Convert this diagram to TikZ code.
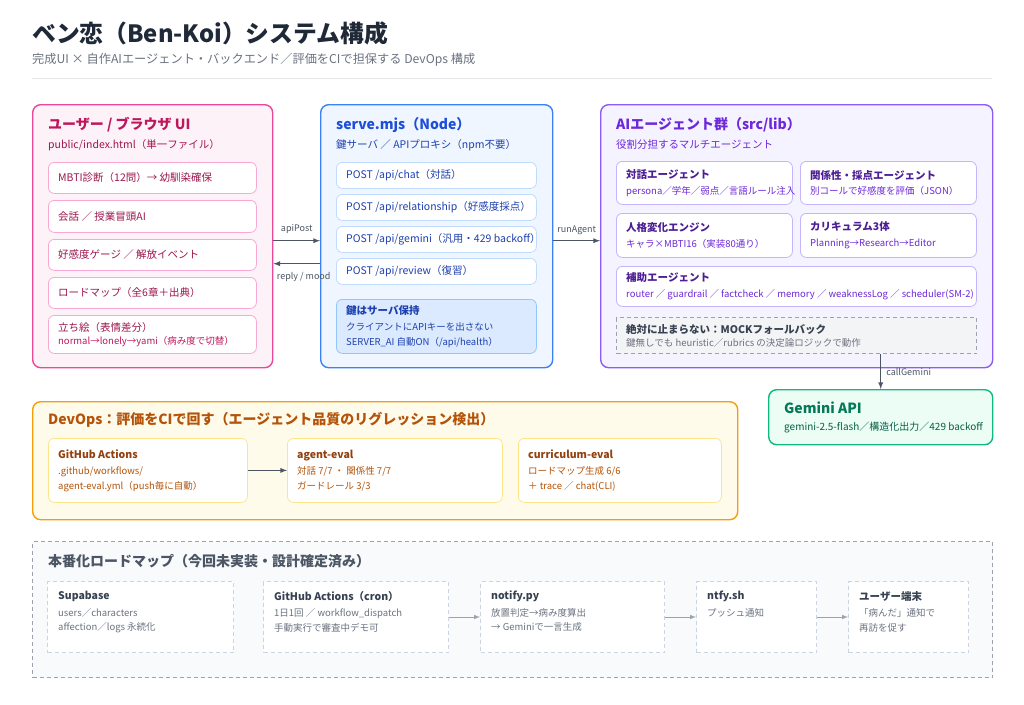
\documentclass[tikz,border=0pt]{standalone}
\usepackage{fontspec}
\setmainfont{Noto Sans CJK JP}
\usepackage{tikz}
\usetikzlibrary{calc}
\usetikzlibrary{shapes,arrows}

\definecolor{ink}{HTML}{1F2937}
\definecolor{muted}{HTML}{6B7280}
\definecolor{sepline}{HTML}{E5E7EB}
\definecolor{arrowc}{HTML}{4B5563}
\definecolor{uiline}{HTML}{EC4899}
\definecolor{uifill}{HTML}{FDF2F8}
\definecolor{uiedge}{HTML}{F9A8D4}
\definecolor{uihead}{HTML}{BE185D}
\definecolor{uitext}{HTML}{9D174D}
\definecolor{srvline}{HTML}{3B82F6}
\definecolor{srvfill}{HTML}{EFF6FF}
\definecolor{srvedge}{HTML}{BFDBFE}
\definecolor{srvhead}{HTML}{1D4ED8}
\definecolor{srvtext}{HTML}{1E40AF}
\definecolor{keyfill}{HTML}{DBEAFE}
\definecolor{keyedge}{HTML}{93C5FD}
\definecolor{agtline}{HTML}{8B5CF6}
\definecolor{agtfill}{HTML}{F5F3FF}
\definecolor{agtedge}{HTML}{C4B5FD}
\definecolor{agthead}{HTML}{6D28D9}
\definecolor{agttitle}{HTML}{4C1D95}
\definecolor{agttext}{HTML}{6D28D9}
\definecolor{mockfill}{HTML}{F3F4F6}
\definecolor{mockedge}{HTML}{9CA3AF}
\definecolor{mockhead}{HTML}{374151}
\definecolor{gemline}{HTML}{10B981}
\definecolor{gemfill}{HTML}{ECFDF5}
\definecolor{gemhead}{HTML}{047857}
\definecolor{gemtext}{HTML}{065F46}
\definecolor{devline}{HTML}{F59E0B}
\definecolor{devfill}{HTML}{FFFBEB}
\definecolor{devedge}{HTML}{FDE68A}
\definecolor{devhead}{HTML}{B45309}
\definecolor{devtitle}{HTML}{92400E}
\definecolor{devtext}{HTML}{B45309}
\definecolor{rmline}{HTML}{9CA3AF}
\definecolor{rmfill}{HTML}{F8FAFC}
\definecolor{rmedge}{HTML}{CBD5E1}
\definecolor{rmhead}{HTML}{4B5563}
\definecolor{rmarrow}{HTML}{9CA3AF}

\tikzset{
  txt/.style={anchor=west, inner sep=0pt},
  headtxt/.style={txt, font=\fontsize{14}{17}\selectfont\bfseries},
  subtxt/.style={txt, font=\fontsize{10.5}{13}\selectfont},
  cardtxt/.style={txt, align=left, font=\fontsize{9.5}{14.5}\selectfont},
  panel/.style={draw, rounded corners=8pt, line width=1.4pt, anchor=north west, inner sep=0pt},
  item/.style={draw, rounded corners=6pt, line width=0.8pt, fill=white, anchor=north west, inner sep=0pt},
  dashbox/.style={draw, dash pattern=on 4pt off 3pt, line width=1pt, anchor=north west, inner sep=0pt},
  conn/.style={draw=arrowc, line width=1.3pt, -latex},
  connlabel/.style={font=\fontsize{9}{11}\selectfont, text=arrowc, inner sep=0pt},
}

\begin{document}
\begin{tikzpicture}[x=1pt,y=-1pt,>=latex]
\useasboundingbox (0,0) rectangle (1024,704);
\fill[white] (0,0) rectangle (1024,704);

% header
\node[txt, font=\fontsize{23.8}{28}\selectfont\bfseries, text=ink] (title) at (32,33) {ベン恋（Ben-Koi）システム構成};
\node[txt, font=\fontsize{12.2}{14}\selectfont, text=muted] (subtitle) at (32,60) {完成UI × 自作AIエージェント・バックエンド／評価をCIで担保する DevOps 構成};
\draw[sepline, line width=1pt] (32,78) -- (992,78);

% user / browser UI
\node[panel, draw=uiline, fill=uifill, minimum width=240pt, minimum height=263pt] (ui) at (32,104) {};
\node[headtxt, text=uihead] (uihd) at (48,125) {ユーザー / ブラウザ UI};
\node[subtxt, text=uitext] (uisb) at (48,145) {public/index.html（単一ファイル）};
\node[item, draw=uiedge, minimum width=208pt, minimum height=31pt] (ui1) at (48,162) {};
\node[subtxt, text=uitext] (ui1t) at ($(ui1.west)+(10,0)$) {MBTI診断（12問）→ 幼馴染確保};
\node[item, draw=uiedge, minimum width=208pt, minimum height=32pt] (ui2) at (48,200) {};
\node[subtxt, text=uitext] (ui2t) at ($(ui2.west)+(10,0)$) {会話 ／ 授業冒頭AI};
\node[item, draw=uiedge, minimum width=208pt, minimum height=31pt] (ui3) at (48,239) {};
\node[subtxt, text=uitext] (ui3t) at ($(ui3.west)+(10,0)$) {好感度ゲージ ／ 解放イベント};
\node[item, draw=uiedge, minimum width=208pt, minimum height=31pt] (ui4) at (48,277) {};
\node[subtxt, text=uitext] (ui4t) at ($(ui4.west)+(10,0)$) {ロードマップ（全6章＋出典）};
\node[item, draw=uiedge, minimum width=208pt, minimum height=38pt] (ui5) at (48,315) {};
\node[cardtxt, text=uihead, font=\fontsize{9.5}{13}\selectfont] (ui5t) at ($(ui5.west)+(10,0)$) {{\color{uitext}\fontsize{10.5}{13}\selectfont 立ち絵（表情差分）}\\normal→lonely→yami（病み度で切替）};

% serve.mjs
\node[panel, draw=srvline, fill=srvfill, minimum width=232pt, minimum height=263pt] (srv) at (320,104) {};
\node[headtxt, text=srvhead] (srvhd) at (336,125) {serve.mjs（Node）};
\node[subtxt, text=srvtext] (srvsb) at (336,145) {鍵サーバ ／ APIプロキシ（npm不要）};
\node[item, draw=srvedge, minimum width=200pt, minimum height=26pt] (api1) at (336,162) {};
\node[subtxt, text=srvtext] (api1t) at ($(api1.west)+(10,0)$) {POST /api/chat（対話）};
\node[item, draw=srvedge, minimum width=200pt, minimum height=26pt] (api2) at (336,194) {};
\node[subtxt, text=srvtext] (api2t) at ($(api2.west)+(10,0)$) {POST /api/relationship（好感度採点）};
\node[item, draw=srvedge, minimum width=200pt, minimum height=26pt] (api3) at (336,226) {};
\node[subtxt, text=srvtext] (api3t) at ($(api3.west)+(10,0)$) {POST /api/gemini（汎用・429 backoff）};
\node[item, draw=srvedge, minimum width=200pt, minimum height=26pt] (api4) at (336,258) {};
\node[subtxt, text=srvtext] (api4t) at ($(api4.west)+(10,0)$) {POST /api/review（復習）};
\node[item, draw=keyedge, fill=keyfill, minimum width=200pt, minimum height=54pt] (key) at (336,299) {};
\node[cardtxt, text=srvtext] (keyt) at ($(key.west)+(10,0)$) {{\fontsize{10.5}{14}\selectfont\bfseries 鍵はサーバ保持}\\[2pt]クライアントにAPIキーを出さない\\SERVER\_AI 自動ON（/api/health）};

% agents
\node[panel, draw=agtline, fill=agtfill, minimum width=392pt, minimum height=263pt] (agt) at (600,104) {};
\node[headtxt, text=agthead] (agthd) at (616,125) {AIエージェント群（src/lib）};
\node[subtxt, text=agttext] (agtsb) at (616,145) {役割分担するマルチエージェント};
\node[item, draw=agtedge, minimum width=176pt, minimum height=43pt] (talk) at (616,161) {};
\node[cardtxt, text=agttext] (talkt) at ($(talk.west)+(10,0)$) {{\color{agttitle}\fontsize{10.5}{14}\selectfont\bfseries 対話エージェント}\\[1pt]persona／学年／弱点／言語ルール注入};
\node[item, draw=agtedge, minimum width=176pt, minimum height=43pt] (rel) at (800,161) {};
\node[cardtxt, text=agttext] (relt) at ($(rel.west)+(10,0)$) {{\color{agttitle}\fontsize{10.5}{14}\selectfont\bfseries 関係性・採点エージェント}\\[1pt]別コールで好感度を評価（JSON）};
\node[item, draw=agtedge, minimum width=176pt, minimum height=44pt] (pers) at (616,213) {};
\node[cardtxt, text=agttext] (perst) at ($(pers.west)+(10,0)$) {{\color{agttitle}\fontsize{10.5}{14}\selectfont\bfseries 人格変化エンジン}\\[1pt]キャラ×MBTI16（実装80通り）};
\node[item, draw=agtedge, minimum width=176pt, minimum height=44pt] (curr) at (800,213) {};
\node[cardtxt, text=agttext] (currt) at ($(curr.west)+(10,0)$) {{\color{agttitle}\fontsize{10.5}{14}\selectfont\bfseries カリキュラム3体}\\[1pt]Planning→Research→Editor};
\node[item, draw=agtedge, minimum width=360pt, minimum height=40pt] (aux) at (616,266) {};
\node[cardtxt, text=agttext] (auxt) at ($(aux.west)+(10,0)$) {{\color{agttitle}\fontsize{10.5}{14}\selectfont\bfseries 補助エージェント}\\[1pt]router ／ guardrail ／ factcheck ／ memory ／ weaknessLog ／ scheduler(SM-2)};
\node[dashbox, draw=mockedge, fill=mockfill, minimum width=360pt, minimum height=36pt] (mock) at (616,317) {};
\node[cardtxt, text=muted, font=\fontsize{9.5}{13}\selectfont] (mockt) at ($(mock.west)+(10,0)$) {{\color{mockhead}\fontsize{10.5}{13}\selectfont\bfseries 絶対に止まらない：MOCKフォールバック}\\鍵無しでも heuristic／rubrics の決定論ロジックで動作};

% Gemini
\node[panel, draw=gemline, fill=gemfill, minimum width=224pt, minimum height=55pt] (gem) at (768,389) {};
\node[cardtxt, text=gemtext, font=\fontsize{10}{14}\selectfont] (gemt) at ($(gem.west)+(16,0)$) {{\color{gemhead}\fontsize{14}{17}\selectfont\bfseries Gemini API}\\[3pt]gemini-2.5-flash／構造化出力／429 backoff};

% DevOps
\node[panel, draw=devline, fill=devfill, minimum width=705pt, minimum height=118pt] (dev) at (32,401) {};
\node[headtxt, text=devhead] (devhd) at (48,420) {DevOps：評価をCIで回す（エージェント品質のリグレッション検出）};
\node[item, draw=devedge, minimum width=199pt, minimum height=64pt] (gha) at (48,438) {};
\node[cardtxt, text=devtext] (ghat) at ($(gha.west)+(10,0)$) {{\color{devtitle}\fontsize{10.5}{14}\selectfont\bfseries GitHub Actions}\\[2pt].github/workflows/\\agent-eval.yml（push毎に自動）};
\node[item, draw=devedge, minimum width=215pt, minimum height=64pt] (aev) at (287,438) {};
\node[cardtxt, text=devtext] (aevt) at ($(aev.west)+(10,0)$) {{\color{devtitle}\fontsize{10.5}{14}\selectfont\bfseries agent-eval}\\[2pt]対話 7/7 ・ 関係性 7/7\\ガードレール 3/3};
\node[item, draw=devedge, minimum width=203pt, minimum height=64pt] (cev) at (518,438) {};
\node[cardtxt, text=devtext] (cevt) at ($(cev.west)+(10,0)$) {{\color{devtitle}\fontsize{10.5}{14}\selectfont\bfseries curriculum-eval}\\[2pt]ロードマップ生成 6/6\\＋ trace ／ chat(CLI)};

% roadmap
\node[dashbox, draw=rmline, fill=rmfill, line width=1.2pt, minimum width=960pt, minimum height=136pt] (rm) at (32,541) {};
\node[headtxt, text=rmhead] (rmhd) at (48,561) {本番化ロードマップ（今回未実装・設計確定済み）};
\node[dashbox, draw=rmedge, fill=white, minimum width=186pt, minimum height=71pt] (supa) at (47,581) {};
\node[cardtxt, text=muted, anchor=north west] (supat) at ($(supa.north west)+(11,10)$) {{\color{mockhead}\fontsize{10.5}{14}\selectfont\bfseries Supabase}\\[2pt]users／characters\\affection／logs 永続化};
\node[dashbox, draw=rmedge, fill=white, minimum width=185pt, minimum height=71pt] (cron) at (263,581) {};
\node[cardtxt, text=muted, anchor=north west] (cront) at ($(cron.north west)+(11,10)$) {{\color{mockhead}\fontsize{10.5}{14}\selectfont\bfseries GitHub Actions（cron）}\\[2pt]1日1回 ／ workflow\_dispatch\\手動実行で審査中デモ可};
\node[dashbox, draw=rmedge, fill=white, minimum width=184pt, minimum height=71pt] (notify) at (480,581) {};
\node[cardtxt, text=muted, anchor=north west] (notifyt) at ($(notify.north west)+(11,10)$) {{\color{mockhead}\fontsize{10.5}{14}\selectfont\bfseries notify.py}\\[2pt]放置判定→病み度算出\\→ Geminiで一言生成};
\node[dashbox, draw=rmedge, fill=white, minimum width=120pt, minimum height=71pt] (ntfy) at (696,581) {};
\node[cardtxt, text=muted, anchor=north west] (ntfyt) at ($(ntfy.north west)+(11,10)$) {{\color{mockhead}\fontsize{10.5}{14}\selectfont\bfseries ntfy.sh}\\[2pt]プッシュ通知};
\node[dashbox, draw=rmedge, fill=white, minimum width=120pt, minimum height=71pt] (device) at (848,581) {};
\node[cardtxt, text=muted, anchor=north west] (devicet) at ($(device.north west)+(11,10)$) {{\color{mockhead}\fontsize{10.5}{14}\selectfont\bfseries ユーザー端末}\\[2pt]「病んだ」通知で\\再訪を促す};

% connectors
\draw[conn] ($(ui.east)+(0,4.5)$) -- ($(srv.west)+(0,4.5)$) node[connlabel, midway, above=6pt] {apiPost};
\draw[conn] ($(srv.west)+(0,27.5)$) -- ($(ui.east)+(0,27.5)$) node[connlabel, midway, below=8pt, xshift=7pt] {reply / mood};
\draw[conn] ($(srv.east)+(0,4.5)$) -- ($(agt.west)+(0,4.5)$) node[connlabel, midway, above=5pt] {runAgent};
\draw[conn] (mock.south -| gem.north) -- (gem.north) node[connlabel, midway, right=5pt] {callGemini};
\draw[conn] (gha.east) -- (aev.west);
\draw[conn, draw=rmarrow, line width=1pt] (cron.east) -- (notify.west);
\draw[conn, draw=rmarrow, line width=1pt] (notify.east) -- (ntfy.west);
\draw[conn, draw=rmarrow, line width=1pt] (ntfy.east) -- (device.west);
\end{tikzpicture}
\end{document}
